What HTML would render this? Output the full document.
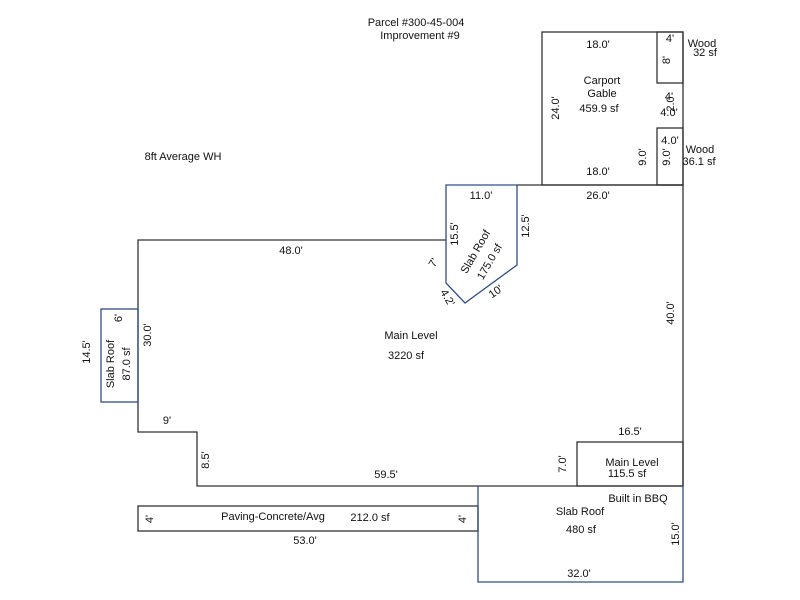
<!DOCTYPE html>
<html>
<head>
<meta charset="utf-8">
<style>
html,body{margin:0;padding:0;background:#fff;}
svg{display:block;}
text{font-family:"Liberation Sans",Arial,sans-serif;font-size:11px;fill:#111;}
</style>
</head>
<body>
<svg width="800" height="600" viewBox="0 0 800 600" xmlns="http://www.w3.org/2000/svg">
<rect width="800" height="600" fill="#fff"/>
<g fill="none" stroke="#333" stroke-width="1.3">
  <!-- main level -->
  <polyline points="446,240 138,240 138,432 197,432 197,486 683,486 683,185 517,185"/>
  <!-- carport -->
  <rect x="542" y="32" width="141" height="153"/>
  <rect x="657" y="32" width="26" height="51"/>
  <rect x="657" y="128" width="26" height="57"/>
  <!-- main level 115.5 -->
  <rect x="577" y="442" width="106" height="44"/>
  <!-- paving -->
  <rect x="138" y="506" width="340" height="25"/>
</g>
<g fill="none" stroke="#2f4f8a" stroke-width="1.3">
  <polygon points="446,185 517,185 517,265 465,303 446,283"/>
  <rect x="101" y="309" width="37" height="93"/>
  <polyline points="478,486 478,582 683,582 683,486"/>
</g>

<g text-anchor="middle" dominant-baseline="central">
  <text x="416" y="23">Parcel #300-45-004</text>
  <text x="420" y="36">Improvement #9</text>
  <text x="183" y="157">8ft Average WH</text>

  <text x="598" y="45">18.0'</text>
  <text x="602" y="81">Carport</text>
  <text x="602" y="94">Gable</text>
  <text x="599" y="109">459.9 sf</text>
  <text x="598" y="172">18.0'</text>
  <text transform="translate(556,108) rotate(-90)">24.0'</text>
  <text transform="translate(643,157) rotate(-90)">9.0'</text>
  <text x="670" y="39">4'</text>
  <text transform="translate(667,60) rotate(-90)">8'</text>
  <text x="702" y="44">Wood</text>
  <text x="705" y="53">32 sf</text>
  <text x="669" y="97">4'</text>
  <text transform="translate(671,104) rotate(-90)" font-size="10">2.0</text>
  <text x="669" y="113">4.0'</text>
  <text x="670" y="141">4.0'</text>
  <text transform="translate(667,157) rotate(-90)">9.0'</text>
  <text x="700" y="150">Wood</text>
  <text x="699" y="162">36.1 sf</text>
  <text x="598" y="196">26.0'</text>

  <text x="481" y="196">11.0'</text>
  <text transform="translate(455,234) rotate(-90)">15.5'</text>
  <text transform="translate(526,226) rotate(-90)">12.5'</text>
  <text transform="translate(476,252) rotate(-60)">Slab Roof</text>
  <text transform="translate(490,262) rotate(-60)">175.0 sf</text>
  <text transform="translate(434,263) rotate(-60)">7'</text>
  <text transform="translate(447,298) rotate(60)">4.2'</text>
  <text transform="translate(496,292) rotate(-35)">10'</text>

  <text x="291" y="251">48.0'</text>
  <text x="411" y="336">Main Level</text>
  <text x="406" y="356">3220 sf</text>
  <text transform="translate(671,313) rotate(-90)">40.0'</text>

  <text transform="translate(119,318) rotate(-90)">6'</text>
  <text transform="translate(148,335) rotate(-90)">30.0'</text>
  <text transform="translate(87,352) rotate(-90)">14.5'</text>
  <text transform="translate(111,364) rotate(-90)">Slab Roof</text>
  <text transform="translate(127,364) rotate(-90)">87.0 sf</text>
  <text x="167" y="421">9'</text>
  <text transform="translate(206,460) rotate(-90)">8.5'</text>
  <text x="386" y="475">59.5'</text>

  <text x="630" y="432">16.5'</text>
  <text transform="translate(563,464) rotate(-90)">7.0'</text>
  <text x="632" y="463">Main Level</text>
  <text x="627" y="474">115.5 sf</text>
  <text x="638" y="499">Built in BBQ</text>
  <text x="580" y="512">Slab Roof</text>
  <text x="581" y="530">480 sf</text>
  <text transform="translate(676,534) rotate(-90)">15.0'</text>
  <text x="579" y="574">32.0'</text>

  <text transform="translate(150,519) rotate(-90)">4'</text>
  <text x="273" y="517">Paving-Concrete/Avg</text>
  <text x="370" y="518">212.0 sf</text>
  <text transform="translate(463,519) rotate(-90)">4'</text>
  <text x="305" y="541">53.0'</text>
</g>
</svg>
</body>
</html>
